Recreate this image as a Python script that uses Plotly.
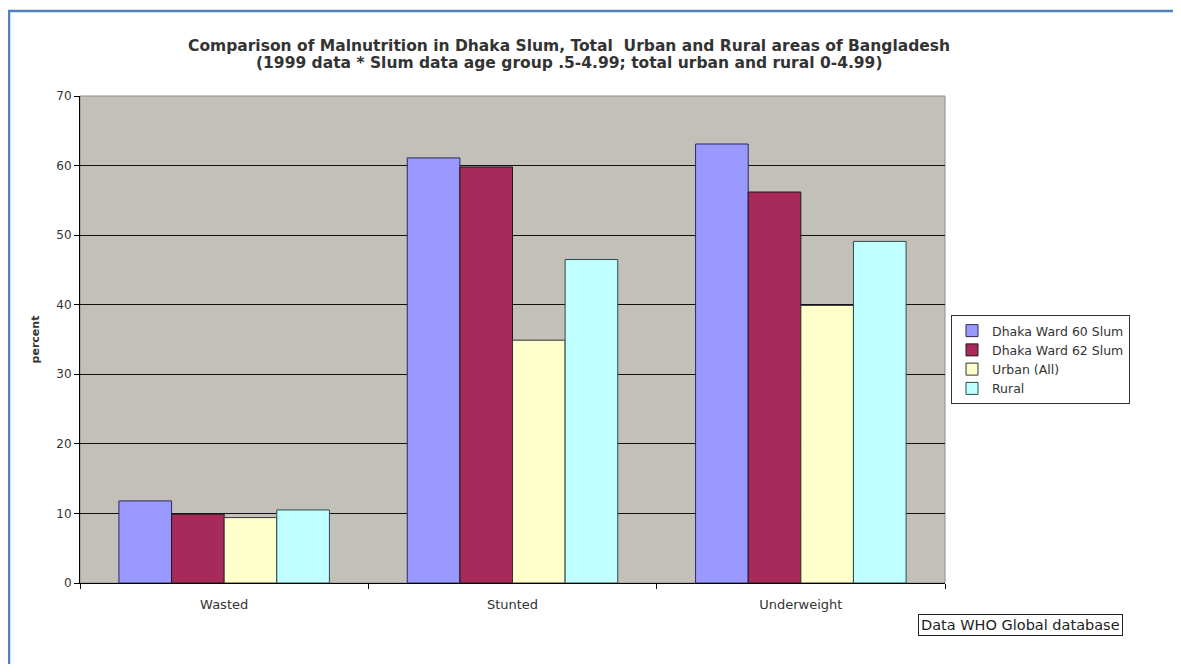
import plotly.graph_objects as go

categories = ["Wasted", "Stunted", "Underweight"]
series_names = ["Dhaka Ward 60 Slum", "Dhaka Ward 62 Slum", "Urban (All)", "Rural"]
ward60 = [11.8, 61.1, 63.1]
ward62 = [9.9, 59.8, 56.2]
urban = [9.4, 34.9, 39.9]
rural = [10.5, 46.5, 49.1]
y_ticks = [0, 10, 20, 30, 40, 50, 60, 70]
title_line1 = "Comparison of Malnutrition in Dhaka Slum, Total  Urban and Rural areas of Bangladesh"
title_line2 = "(1999 data * Slum data age group .5-4.99; total urban and rural 0-4.99)"
source_note = "Data WHO Global database"

colors = ["#9999FF", "#A82A5A", "#FFFFCC", "#BFFFFF"]
edges = ["#2A2A55", "#1A1A1A", "#333333", "#2E4A4A"]
values = [ward60, ward62, urban, rural]

FW, FH = 1165, 656
L, T = 72, 88
PR, PB = 937, 575
PW, PH = PR - L, PB - T


def px(x):
    return (x - L) / PW


def py(y):
    return (PB - y) / PH


FONT = "DejaVu Sans, Liberation Sans, Arial"

fig = go.Figure()
for name, vals, col, ec in zip(series_names, values, colors, edges):
    fig.add_trace(go.Bar(
        x=categories, y=vals, name=name,
        marker=dict(color=col, line=dict(color=ec, width=1)),
    ))

fig.update_layout(
    width=FW, height=FH,
    barmode="group", bargap=0.27, bargroupgap=0,
    paper_bgcolor="white", plot_bgcolor="#C3C0BA",
    margin=dict(l=L, r=FW - PR, t=T, b=FH - PB),
    font=dict(family=FONT, size=12, color="#333333"),
    legend=dict(
        x=px(943), y=py(307), xanchor="left", yanchor="top",
        bordercolor="#333333", borderwidth=1, bgcolor="white",
        font=dict(size=12.5, color="#333333"),
        itemwidth=30, tracegroupgap=0,
    ),
    showlegend=True,
)

fig.update_xaxes(
    showline=True, linecolor="black", linewidth=1,
    ticks="outside", tickson="boundaries", ticklen=5, tickcolor="black",
    showgrid=False, ticklabelstandoff=9,
    tickfont=dict(size=13, color="#333333"),
)
fig.update_yaxes(
    range=[0, 70], tickvals=y_ticks,
    showline=True, linecolor="black", linewidth=1,
    ticks="outside", ticklen=5, tickcolor="black",
    showgrid=True, gridcolor="#111111", gridwidth=1,
    zeroline=False,
    tickfont=dict(size=12, color="#333333"),
    title=dict(text="<b>percent</b>", font=dict(size=11, color="#333333"), standoff=14),
)

# plot area border (top/right grey)
fig.add_shape(type="rect", xref="paper", yref="paper", x0=0, y0=0, x1=1, y1=1,
              line=dict(color="#8C8C8C", width=1), layer="below")
# outer blue frame
fig.add_shape(type="rect", xref="paper", yref="paper",
              x0=px(1), y0=py(FH + 20), x1=px(FW + 20), y1=py(3),
              line=dict(color="#4F81BD", width=2.5))

# title lines
fig.add_annotation(text="<b>" + title_line1 + "</b>", xref="paper", yref="paper",
                   x=px(561), y=py(38), xanchor="center", yanchor="middle",
                   showarrow=False, font=dict(size=15.5, color="#333333", family=FONT))
fig.add_annotation(text="<b>" + title_line2 + "</b>", xref="paper", yref="paper",
                   x=px(561), y=py(55), xanchor="center", yanchor="middle",
                   showarrow=False, font=dict(size=15.5, color="#333333", family=FONT))

fig.add_annotation(
    text=source_note, xref="paper", yref="paper",
    x=px(910), y=py(617), xanchor="left", yanchor="middle",
    showarrow=False, bordercolor="#222222", borderwidth=1, borderpad=2,
    bgcolor="white", font=dict(size=14.5, color="#222222"),
)

fig.write_html("out.html")
